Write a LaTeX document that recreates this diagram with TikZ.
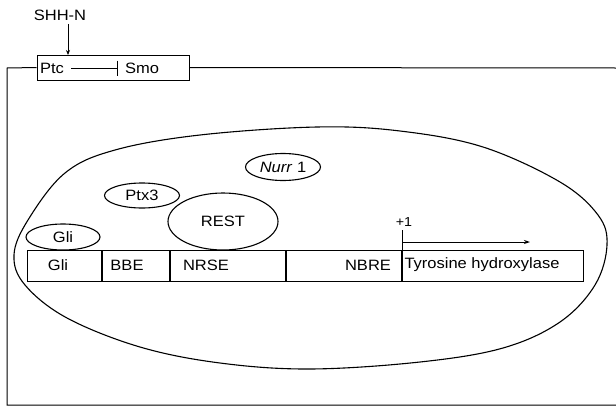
\documentclass[tikz,border=0pt]{standalone}
\usepackage{fontspec}
\setmainfont{Liberation Sans}[FakeStretch=1.1]
\usetikzlibrary{positioning,shapes.geometric,arrows.meta}

\begin{document}
\begin{tikzpicture}[x=1pt,y=-1pt,
    font=\fontsize{15}{18}\selectfont,
    lw/.style={line width=1pt},
    prot/.style={draw,ellipse,fill=white,line width=1.1pt,inner sep=0pt},
    seg/.style={draw,line width=1pt,minimum height=31pt,inner sep=0pt,anchor=west}]
  \useasboundingbox (0,0) rectangle (616,407);

  %receptor
  \node (shh) at (60,15) {SHH-N};
  \node[draw,lw,minimum width=152pt,minimum height=25pt] (rcpt) at (113,67.5) {};
  \node (ptc) at (52,68) {Ptc};
  \node (smo) at (142,68) {Smo};
  \coordinate (hit) at (68,55);
  \draw[lw,-{Stealth[length=5pt,width=4pt]}] (shh.south -| hit) -- (hit);
  \draw[lw,-{Bar[width=15pt]},shorten <=4pt,shorten >=3.5pt] (ptc.east) -- (smo.west);

  %cellula
  \coordinate (ctl) at (7,68);
  \coordinate (ctr) at (616,68);
  \coordinate (cbl) at (7,405);
  \coordinate (cbr) at (616,405);
  \draw[lw] (rcpt.west) -- (ctl) -- (cbl) -- (cbr);
  \draw[lw] (rcpt.east) -- (ctr);

  %nucleo
  \draw[line width=1.1pt] plot[smooth cycle,tension=0.6] coordinates {
    (317,127) (400,131) (483,147) (560,182) (598,215) (607,245)
    (595,285) (560,322) (503,348) (420,362) (310,369) (220,363)
    (140,347) (67,318) (25,285) (14,255) (28,220) (65,173)
    (115,150) (200,135)};

  %promotore
  \node[seg,minimum width=74pt] (sgli) at (27,265.5) {};
  \node[seg,minimum width=67pt,right=0pt of sgli] (sbbe) {};
  \node[seg,minimum width=115pt,right=0pt of sbbe] (snrse) {};
  \node[seg,minimum width=115pt,right=0pt of snrse] (snbre) {};
  \node[seg,minimum width=181pt,right=0pt of snbre] (sth) {};
  \node (tgli) at (58,265) {Gli};
  \node (tbbe) at (127,265) {BBE};
  \node (tnrse) at (206,265) {NRSE};
  \node (tnbre) at (368,265) {NBRE};
  \node (tth) at (482,265) {Tyrosine hydroxylase};

  %trascrizione
  \node[font=\fontsize{13}{15}\selectfont] (plus) at (404,222) {+1};
  \coordinate (tss) at (530,242);
  \draw[lw] (sth.north west) -- (plus.south -| sth.north west);
  \draw[lw,-{Stealth[length=6pt,width=4pt]}] (sth.north west |- tss) -- (tss);

  %fattori
  \node[prot,minimum width=74pt,minimum height=26pt] (pgli) at (63,237) {Gli};
  \node[prot,minimum width=75pt,minimum height=25pt] (ptx) at (142,195.5) {Ptx3};
  \node[prot,minimum width=110pt,minimum height=57pt] (rest) at (223,221.5) {REST};
  \node[prot,minimum width=75pt,minimum height=27pt] (nurr) at (283,167) {\textit{Nurr} 1};
\end{tikzpicture}
\end{document}
